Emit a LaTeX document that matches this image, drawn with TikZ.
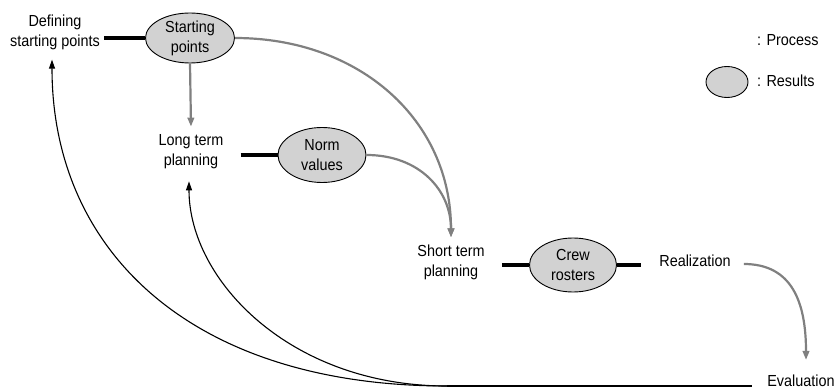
\documentclass[tikz,border=0pt]{standalone}
\usepackage{fontspec}
\setmainfont{Liberation Sans}[FakeStretch=0.9]
\usetikzlibrary{arrows.meta,shapes.geometric}
\begin{document}
\begin{tikzpicture}[x=1pt,y=-1pt,
  proc/.style={align=center,inner sep=3pt,font=\fontsize{16}{20}\selectfont},
  res/.style={ellipse,draw=black,line width=0.9pt,fill=gray!35,align=center,inner sep=0pt,font=\fontsize{16}{20}\selectfont},
  link/.style={line width=3.5pt},
  flow/.style={draw=gray,line width=2.2pt,-{Triangle[length=9pt,width=6.5pt,fill=gray]}},
  fb/.style={line width=1.1pt,-{Triangle[length=9pt,width=6pt]}}]
\useasboundingbox (0,0) rectangle (838,390);
% nodes
\node[proc] (ds) at (55,32) {Defining\\starting points};
\node[res,minimum width=89pt,minimum height=50pt] (sp) at (190,38) {Starting\\points};
\node[proc] (lt) at (191,152) {Long term\\planning};
\node[res,minimum width=88pt,minimum height=55pt] (nv) at (322,155) {Norm\\values};
\node[proc] (st) at (451,262) {Short term\\planning};
\node[res,minimum width=87pt,minimum height=54pt] (cr) at (573,265) {Crew\\rosters};
\node[proc] (re) at (695,261) {Realization};
\node[proc] (ev) at (801,381) {Evaluation};
\coordinate (m) at (447,386);
% legend
\node[proc,anchor=west] (lp) at (754,40) {: Process};
\node[res,minimum width=42pt,minimum height=31pt] (le) at (727,82) {};
\node[proc,anchor=west] (lr) at (754,81) {: Results};
% links process-result
\draw[link] ([xshift=1pt]ds.east |- sp.west) -- (sp.west);
\draw[link] ([xshift=14pt]lt.east |- nv.west) -- (nv.west);
\draw[link] ([xshift=14pt]st.east |- cr.west) -- (cr.west);
\draw[link] (cr.east) -- ([xshift=-15pt]re.west |- cr.east);
% gray flows
\draw[flow] (sp.south) -- ([yshift=5pt]lt.north);
\draw[flow] (sp.east) .. controls +(125,0) and +(0,-117) .. ([yshift=4pt]st.north);
\draw[flow] (nv.east) .. controls +(53,0) and +(0,-47) .. ([yshift=4pt]st.north);
\draw[flow] ([xshift=10pt,yshift=-3pt]re.east) .. controls +(48,0) and +(0,-58) .. ([xshift=5pt,yshift=12pt]ev.north);
% feedback
\draw[line width=1.1pt] (m) -- ([xshift=-12pt]ev.west |- m);
\draw[fb] (m) .. controls (190,386) and (52,250) .. ([xshift=-3pt,yshift=-7pt]ds.south);
\draw[fb] (m) .. controls (290,386) and (189,280) .. ([xshift=-2pt,yshift=-9pt]lt.south);
\end{tikzpicture}
\end{document}
